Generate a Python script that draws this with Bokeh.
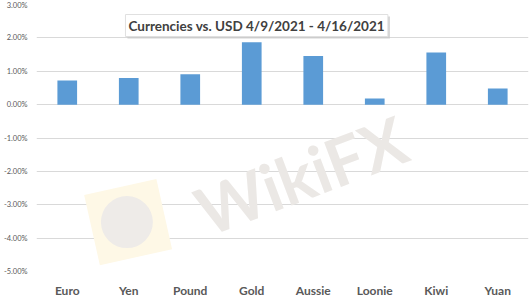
from bokeh.plotting import figure
from bokeh.models import (FactorRange, Range1d, FixedTicker, NumeralTickFormatter,
                          Label, ColumnDataSource)
from bokeh.core.properties import value
from bokeh.embed import file_html
from bokeh.resources import INLINE

# ---- data ----
categories = ["Euro", "Yen", "Pound", "Gold", "Aussie", "Loonie", "Kiwi", "Yuan"]
changes = [0.0072, 0.0080, 0.0091, 0.0187, 0.0146, 0.0018, 0.0156, 0.0048]
y_ticks = [-0.05, -0.04, -0.03, -0.02, -0.01, 0.0, 0.01, 0.02, 0.03]
title_text = "Currencies vs. USD 4/9/2021 - 4/16/2021"
watermark_text = "WikiFX"

src = ColumnDataSource(dict(cat=categories, val=changes))

p = figure(width=530, height=300, output_backend="svg", toolbar_location=None,
           x_range=FactorRange(*categories, range_padding=0),
           y_range=Range1d(-0.05, 0.03),
           min_border_left=33, min_border_right=2, min_border_top=4,
           min_border_bottom=26)
p.outline_line_color = None
p.background_fill_color = "white"
p.border_fill_color = "white"

# watermark
p.rect(x=[1.49], y=[-0.0352], width=74, height=72, width_units="screen",
       height_units="screen", angle=0.22, fill_color="#fef8e6", line_color=None)
p.scatter(x=[1.47], y=[-0.0352], size=52, fill_color="#eeebe8", line_color=None)
p.text(x=[4.3], y=[-0.021], text=[watermark_text], angle=0.36,
       text_font=value("Lato"), text_font_style="bold", text_font_size="66px",
       text_color="#ebe8e5", text_align="center", text_baseline="middle")

p.vbar(x="cat", top="val", width=0.32, source=src, fill_color="#5b9bd5",
       line_color=None)

# axes
p.yaxis.ticker = FixedTicker(ticks=y_ticks)
p.yaxis.formatter = NumeralTickFormatter(format="0.00%")
p.yaxis.axis_line_color = None
p.yaxis.major_tick_line_color = None
p.yaxis.minor_tick_line_color = None
p.yaxis.major_label_text_font_size = "7.5px"
p.yaxis.major_label_text_color = "#595959"
p.yaxis.major_label_text_font = "Lato"
p.yaxis.major_label_standoff = 3

p.xaxis.axis_line_color = None
p.xaxis.major_tick_line_color = None
p.xaxis.major_label_text_font_size = "12px"
p.xaxis.major_label_text_font_style = "bold"
p.xaxis.major_label_text_font = "Lato"
p.xaxis.major_label_text_color = "#595959"
p.xaxis.major_label_standoff = 5

p.xgrid.grid_line_color = None
p.ygrid.grid_line_color = "#d9d9d9"
p.ygrid.ticker = FixedTicker(ticks=y_ticks)

# title box with shadow
shadow = Label(x=3.58, y=0.0237, text=title_text, text_align="center",
               text_baseline="middle", text_font="Lato", text_font_style="bold",
               text_font_size="13.5px", text_color="rgba(0,0,0,0)",
               background_fill_color="#c8c8c8", background_fill_alpha=0.8,
               x_offset=2, y_offset=-2, padding=3)
title = Label(x=3.58, y=0.0237, text=title_text, text_align="center",
              text_baseline="middle", text_font="Lato", text_font_style="bold",
              text_font_size="13.5px", text_color="#404040",
              background_fill_color="white", border_line_color="#e0e0e0",
              padding=3)
p.add_layout(shadow)
p.add_layout(title)

open("out.html", "w").write(file_html(p, INLINE))
